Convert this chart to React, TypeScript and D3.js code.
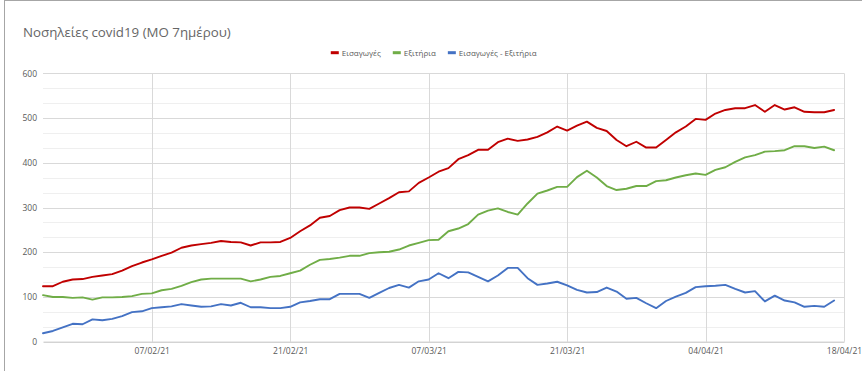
import React, { useEffect, useRef } from "react";
import * as d3 from "d3";

const title = "Νοσηλείες covid19 (ΜΟ 7ημέρου)";
const seriesNames = ["Εισαγωγές", "Εξιτήρια", "Εισαγωγές - Εξιτήρια"];

// one value per day, 27/01/21 .. 17/04/21
const admissions = [
  124, 124, 134, 139, 140, 145, 148, 151, 159, 169,
  177, 184, 192, 199, 210, 215, 218, 221, 225, 223,
  222, 215, 222, 222, 223, 232, 247, 260, 277, 281,
  294, 300, 300, 297, 309, 321, 334, 336, 355, 367,
  380, 388, 408, 417, 429, 429, 446, 454, 449, 452,
  458, 468, 481, 472, 483, 492, 478, 471, 451, 437,
  447, 434, 434, 451, 468, 481, 498, 496, 510, 518,
  522, 522, 529, 514, 529, 519, 524, 514, 513, 513,
  518,
];
const discharges = [
  104, 100, 100, 98, 99, 94, 99, 99, 100, 102,
  107, 108, 115, 118, 125, 133, 139, 141, 141, 141,
  141, 135, 139, 145, 147, 153, 159, 172, 183, 185,
  188, 192, 192, 198, 200, 201, 206, 215, 221, 227,
  228, 247, 253, 263, 284, 293, 298, 290, 284, 309,
  331, 338, 346, 346, 368, 382, 367, 348, 339, 342,
  348, 348, 359, 361, 367, 372, 376, 373, 384, 390,
  402, 412, 417, 425, 426, 428, 437, 437, 433, 436,
  428,
];
const difference = [
  19, 24, 32, 40, 39, 50, 48, 51, 57, 66,
  68, 75, 77, 79, 84, 81, 78, 79, 84, 81,
  87, 77, 77, 75, 75, 78, 88, 91, 95, 95,
  107, 107, 107, 98, 109, 120, 127, 121, 135, 139,
  153, 142, 156, 155, 145, 135, 148, 165, 165, 142,
  127, 130, 134, 126, 116, 110, 111, 121, 112, 96,
  98, 86, 75, 91, 101, 109, 122, 124, 125, 127,
  118, 110, 113, 90, 103, 92, 88, 78, 80, 78,
  92,
];
const tickLabels = ["07/02/21", "21/02/21", "07/03/21", "21/03/21", "04/04/21", "18/04/21"];
const yTicks = [0, 100, 200, 300, 400, 500, 600];

const colors = ["#c00000", "#70ad47", "#4472c4"];
const parse = d3.timeParse("%d/%m/%y");

const App = () => {
  const svgRef = useRef<SVGSVGElement>(null);

  useEffect(() => {
    const svg = d3.select(svgRef.current);
    svg.selectAll("*").remove();

    const W = 862, H = 371;
    const left = 43, right = 844, top = 73.3, bottom = 341.7;
    const font = "'Open Sans', 'Noto Sans', sans-serif";
    const grey = "#595959";

    const start = parse("27/01/21")!;
    const days = d3.timeDay.range(start, d3.timeDay.offset(start, admissions.length));
    const tickDates = tickLabels.map((t) => parse(t)!);

    const x = d3.scaleTime().domain([start, tickDates[tickDates.length - 1]]).range([left, right]);
    const y = d3.scaleLinear().domain([0, 600]).range([bottom, top]);

    svg.append("rect").attr("width", W).attr("height", H).attr("fill", "#fff");
    // chart frame
    svg.append("line").attr("x1", 4.5).attr("x2", 4.5).attr("y1", 0).attr("y2", H).attr("stroke", "#a6a6a6");
    svg.append("line").attr("x1", 4).attr("x2", W).attr("y1", 0.5).attr("y2", 0.5).attr("stroke", "#a6a6a6");

    svg.append("text")
      .attr("x", 23).attr("y", 37)
      .attr("fill", "#666").style("font-family", font).style("font-size", "13.3px")
      .text(title);

    // minor + major horizontal gridlines
    const minor = d3.range(0, 18).map((k) => (k * 100) / 3).filter((v) => v % 100 !== 0);
    svg.append("g").selectAll("line").data(minor).enter().append("line")
      .attr("x1", left).attr("x2", right)
      .attr("y1", (d) => Math.round(y(d)) + 0.5).attr("y2", (d) => Math.round(y(d)) + 0.5)
      .attr("stroke", "#efefef");
    svg.append("g").selectAll("line").data(yTicks.slice(1)).enter().append("line")
      .attr("x1", left).attr("x2", right)
      .attr("y1", (d) => Math.round(y(d)) + 0.5).attr("y2", (d) => Math.round(y(d)) + 0.5)
      .attr("stroke", "#d9d9d9");
    svg.append("g").selectAll("line").data(tickDates).enter().append("line")
      .attr("x1", (d) => Math.round(x(d)) + 0.5).attr("x2", (d) => Math.round(x(d)) + 0.5)
      .attr("y1", top).attr("y2", bottom)
      .attr("stroke", "#d9d9d9");

    // axes
    const yAxis = svg.append("g")
      .attr("transform", `translate(${left - 6},0)`)
      .call(d3.axisLeft(y).tickValues(yTicks).tickSize(0).tickPadding(0));
    yAxis.select(".domain").remove();
    yAxis.selectAll("text").attr("fill", grey).style("font-family", font).style("font-size", "8.5px");

    const xAxis = svg.append("g")
      .attr("transform", `translate(0,${bottom})`)
      .call(d3.axisBottom(x).tickValues(tickDates).tickSize(0).tickPadding(6)
        .tickFormat((d) => d3.timeFormat("%d/%m/%y")(d as Date)));
    xAxis.select(".domain").attr("stroke", "#bfbfbf");
    xAxis.selectAll("text").attr("fill", grey).style("font-family", font).style("font-size", "8.5px");

    // lines
    const allSeries = [admissions, discharges, difference];
    const line = d3.line<number>()
      .x((_, i) => x(days[i]))
      .y((d) => y(d));
    allSeries.forEach((s, k) => {
      svg.append("path")
        .datum(s)
        .attr("d", line)
        .attr("fill", "none")
        .attr("stroke", colors[k])
        .attr("stroke-width", 1.9)
        .attr("stroke-linejoin", "round")
        .attr("stroke-linecap", "round");
    });

    // legend, centred above the plot
    const legend = svg.append("g");
    let cx = 0;
    seriesNames.forEach((name, k) => {
      const item = legend.append("g").attr("transform", `translate(${cx},0)`);
      item.append("rect").attr("x", 0).attr("y", -1.5).attr("width", 8).attr("height", 3).attr("fill", colors[k]);
      const t = item.append("text")
        .attr("x", 11).attr("y", 0).attr("dy", "0.35em")
        .attr("fill", grey).style("font-family", font).style("font-size", "8px")
        .text(name);
      const w = (t.node() as SVGTextElement).getComputedTextLength();
      cx += 11 + w + 12;
    });
    const legendWidth = cx - 12;
    legend.attr("transform", `translate(${433.7 - legendWidth / 2},52.7)`);
  }, []);

  return (
    <svg
      ref={svgRef}
      width={862}
      height={371}
      style={{ position: "absolute", left: 0, top: 0, display: "block" }}
    />
  );
};

export default App;
